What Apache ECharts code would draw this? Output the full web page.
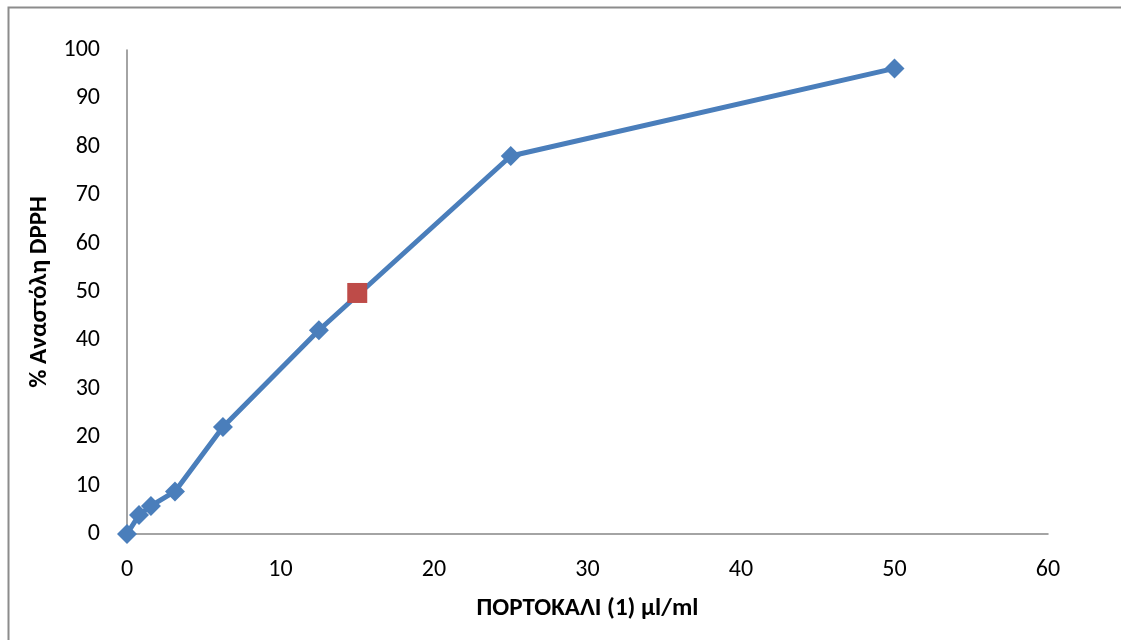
<!DOCTYPE html>
<html>
<head>
<meta charset="utf-8">
<script src="https://cdn.jsdelivr.net/npm/echarts@6/dist/echarts.min.js"></script>
<style>
  html, body { margin: 0; padding: 0; background: #ffffff; }
  #chart { width: 1121px; height: 640px; }
</style>
</head>
<body>
<div id="chart"></div>
<script>
// Concentration (µl/ml) and % DPPH inhibition
const concentrations = [0, 0.78, 1.56, 3.125, 6.25, 12.5, 25, 50];
const inhibition = [0, 3.9, 5.8, 8.8, 22.1, 42.1, 78.1, 96.2];
// IC50 point
const ic50 = [[15, 49.8]];

const xTicks = { min: 0, max: 60, interval: 10 };
const yTicks = { min: 0, max: 100, interval: 10 };

const xName = 'ΠΟΡΤΟΚΑΛΙ (1) μl/ml';
const yName = '% Αναστόλη DPPH';

const font = 'Carlito, "Open Sans", "Noto Sans", sans-serif';

const chart = echarts.init(document.getElementById('chart'), null, { renderer: 'canvas' });
chart.setOption({
  backgroundColor: '#ffffff',
  animation: false,
  graphic: [{
    type: 'rect',
    shape: { x: 8.5, y: 7.5, width: 1200, height: 700 },
    style: { fill: 'none', stroke: '#8c8c8c', lineWidth: 2 },
    silent: true
  }],
  grid: { left: 127, right: 73, top: 50, bottom: 106 },
  xAxis: {
    type: 'value',
    min: xTicks.min, max: xTicks.max, interval: xTicks.interval,
    name: xName,
    nameLocation: 'middle',
    nameGap: 62,
    nameTextStyle: { fontFamily: font, fontSize: 25, fontWeight: 'bold', color: '#000' },
    axisLine: { show: true, lineStyle: { color: '#868686', width: 1.5 } },
    axisTick: { show: false },
    splitLine: { show: false },
    axisLabel: { fontFamily: font, fontSize: 24, color: '#000', margin: 24 }
  },
  yAxis: {
    type: 'value',
    min: yTicks.min, max: yTicks.max, interval: yTicks.interval,
    name: yName,
    nameLocation: 'middle',
    nameGap: 75,
    nameRotate: 90,
    nameTextStyle: { fontFamily: font, fontSize: 25, fontWeight: 'bold', color: '#000' },
    axisLine: { show: true, lineStyle: { color: '#868686', width: 1.5 } },
    axisTick: { show: false },
    splitLine: { show: false },
    axisLabel: { fontFamily: font, fontSize: 24, color: '#000', margin: 27 }
  },
  series: [
    {
      type: 'line',
      data: concentrations.map((c, i) => [c, inhibition[i]]),
      symbol: 'diamond',
      symbolSize: 20,
      lineStyle: { color: '#4a7ebb', width: 5 },
      itemStyle: { color: '#4a7ebb' },
      z: 2
    },
    {
      type: 'scatter',
      data: ic50,
      symbol: 'rect',
      symbolSize: 20,
      itemStyle: { color: '#be4b48', opacity: 1 },
      z: 3
    }
  ]
});
</script>
</body>
</html>
